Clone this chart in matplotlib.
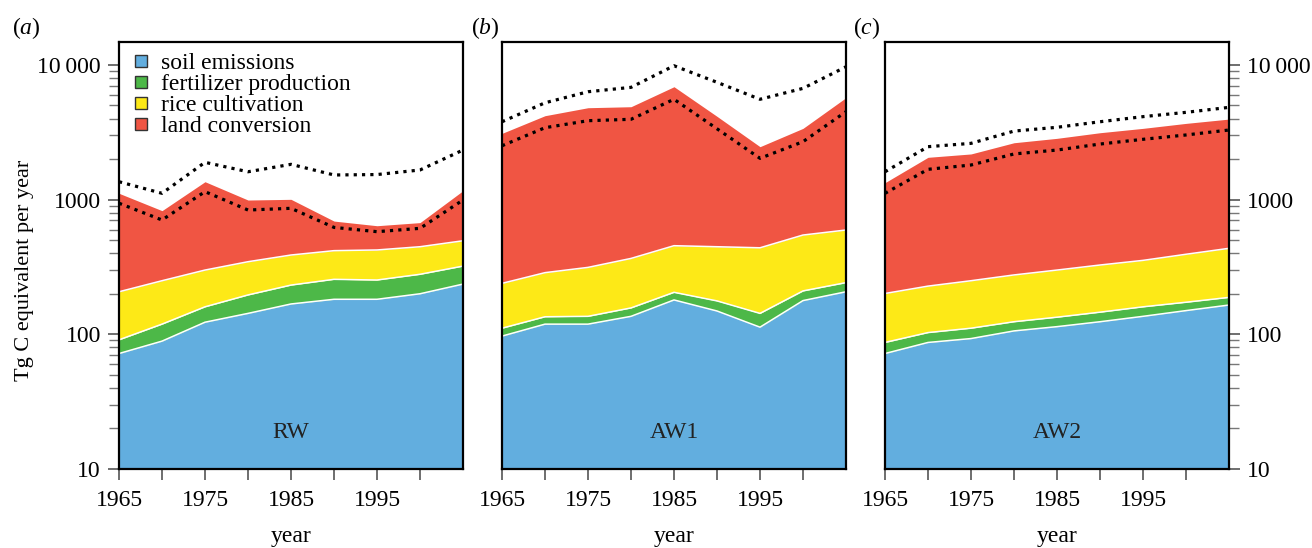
import numpy as np
import matplotlib
matplotlib.use("Agg")
import matplotlib.pyplot as plt
from matplotlib.patches import Patch
from matplotlib.ticker import FixedLocator, LogLocator, NullFormatter

plt.rcParams['font.family'] = ['Liberation Serif', 'DejaVu Serif']
plt.rcParams['mathtext.fontset'] = 'custom'
plt.rcParams['mathtext.rm'] = 'Liberation Serif'
plt.rcParams['mathtext.it'] = 'Liberation Serif:italic'

years = [1965, 1970, 1975, 1980, 1985, 1990, 1995, 2000, 2005]
categories = ["soil emissions", "fertilizer production", "rice cultivation", "land conversion"]
colors = ["#62aedf", "#4db848", "#fde917", "#f05543"]
scenarios = ["RW", "AW1", "AW2"]
panel_tags = ["a", "b", "c"]

# Tg C equivalent per year, one list per source
rw_soil = [72, 89, 123, 143, 168, 182, 182, 200, 236]
rw_fert = [19, 30, 37, 53, 64, 74, 71, 79, 85]
rw_rice = [116, 131, 140, 150, 156, 162, 170, 168, 174]
rw_land = [907, 578, 1058, 647, 617, 275, 217, 228, 670]
rw_low = [940, 706, 1146, 837, 862, 622, 578, 612, 993]
rw_high = [1358, 1114, 1892, 1610, 1828, 1524, 1535, 1660, 2334]

aw1_soil = [97, 119, 119, 136, 180, 149, 113, 178, 207]
aw1_fert = [14, 16, 17, 21, 25, 28, 30, 32, 35]
aw1_rice = [128, 152, 178, 209, 250, 270, 296, 336, 353]
aw1_land = [2865, 3911, 4498, 4529, 6435, 3705, 2033, 2835, 5123]
aw1_low = [2512, 3420, 3855, 3948, 5559, 3357, 2026, 2692, 4498]
aw1_high = [3786, 5236, 6324, 6817, 9862, 7430, 5559, 6700, 9690]

aw2_soil = [72, 87, 93, 106, 114, 124, 136, 150, 165]
aw2_fert = [15, 16, 18, 18, 20, 22, 24, 23, 23]
aw2_rice = [114, 125, 139, 152, 166, 181, 194, 220, 247]
aw2_land = [1135, 1833, 1933, 2368, 2551, 2811, 3027, 3288, 3528]
aw2_low = [1114, 1679, 1807, 2183, 2334, 2586, 2804, 3020, 3287]
aw2_high = [1610, 2472, 2617, 3228, 3443, 3786, 4131, 4446, 4842]

panels = [
    ([rw_soil, rw_fert, rw_rice, rw_land], rw_low, rw_high),
    ([aw1_soil, aw1_fert, aw1_rice, aw1_land], aw1_low, aw1_high),
    ([aw2_soil, aw2_fert, aw2_rice, aw2_land], aw2_low, aw2_high),
]

W, H = 1312, 548
fig = plt.figure(figsize=(W / 100, H / 100), dpi=100)
lefts = [119, 502, 885]
tag_x = [12, 471, 853]
bottom, top = 469, 42
axes = []
for lx in lefts:
    ax = fig.add_axes([lx / W, 1 - bottom / H, 344 / W, (bottom - top) / H])
    axes.append(ax)

yr = np.array(years)
for i, (ax, (layers, low, high)) in enumerate(zip(axes, panels)):
    ax.set_yscale('log')
    tops = np.cumsum(np.array(layers, dtype=float), axis=0)
    base = np.full(len(years), 1.0)
    for k in range(4):
        ax.fill_between(yr, base, tops[k], color=colors[k], lw=0, zorder=1)
        base = tops[k]
    for k in range(3):
        ax.plot(yr, tops[k], color='white', lw=1.1, zorder=2)
    ax.plot(yr, low, color='black', ls=(0, (1, 1.6)), lw=2.3, zorder=3)
    ax.plot(yr, high, color='black', ls=(0, (1, 1.6)), lw=2.3, zorder=3)

    ax.set_xlim(1965, 2005)
    ax.set_ylim(10, 14800)
    ax.xaxis.set_major_locator(FixedLocator([1965, 1975, 1985, 1995]))
    ax.xaxis.set_minor_locator(FixedLocator([1970, 1980, 1990, 2000]))
    ax.tick_params(axis='x', which='both', direction='out', length=8, width=1.2,
                   color='#555555', labelsize=17, pad=7)
    ax.set_xlabel('year', fontsize=17, labelpad=11)

    ax.yaxis.set_minor_locator(LogLocator(base=10, subs=np.arange(2, 10), numticks=10))
    ax.yaxis.set_minor_formatter(NullFormatter())
    ax.set_yticks([10, 100, 1000, 10000], ['10', '100', '1000', '10\u2009000'])
    ax.tick_params(axis='y', which='major', direction='out', length=8, width=1.2,
                   color='#555555', labelsize=17, pad=5)
    ax.tick_params(axis='y', which='minor', direction='out', length=7, width=1.0,
                   color='#777777')
    if i == 1:
        ax.tick_params(axis='y', which='both', left=False, labelleft=False)
    elif i == 2:
        ax.yaxis.tick_right()
        ax.yaxis.set_label_position('right')

    for sp in ax.spines.values():
        sp.set_linewidth(1.6)
        sp.set_color('black')
        sp.set_zorder(5)

    ax.text(0.5, 0.085, scenarios[i], transform=ax.transAxes, ha='center',
            va='center', fontsize=17, color='#222222')
    fig.text(tag_x[i] / W, 1 - 28 / H, r'($%s$)' % panel_tags[i],
             fontsize=17, ha='left', va='center')

axes[0].set_ylabel('Tg C equivalent per year', fontsize=16)
axes[0].yaxis.set_label_coords(-0.248, 0.466)

handles = [Patch(facecolor=c, edgecolor='#333333', lw=1.0) for c in colors]
axes[0].legend(handles, categories, loc='upper left', bbox_to_anchor=(0.0, 1.011),
               frameon=False, fontsize=17, handlelength=0.5, handleheight=0.42,
               handletextpad=0.6, labelspacing=0.0, borderaxespad=0.4,
               borderpad=0.28)

fig.savefig('out.png', dpi=100)
